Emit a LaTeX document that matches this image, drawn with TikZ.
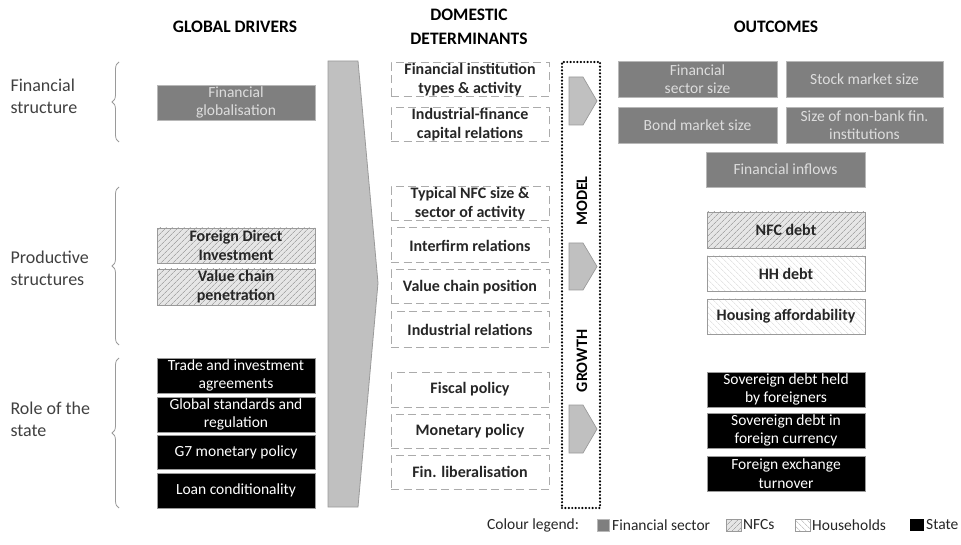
\documentclass[tikz,border=0pt]{standalone}
\usepackage{fontspec}
\setmainfont{Carlito}
\usetikzlibrary{patterns.meta,decorations.pathreplacing}
\definecolor{fingray}{HTML}{7F7F7F}
\definecolor{fintext}{HTML}{DDDDDD}
\definecolor{nfcbg}{HTML}{E6E6E6}
\definecolor{nfcline}{HTML}{A8A8A8}
\definecolor{hhline}{HTML}{D8D8D8}
\definecolor{edgegray}{HTML}{9A9A9A}
\definecolor{dashgray}{HTML}{ABABAB}
\definecolor{arrowfill}{HTML}{C0C0C0}
\definecolor{labelgray}{HTML}{404040}
\newcommand\boxfont{\fontsize{15.5}{18.5}\selectfont}
\newcommand\boldboxfont{\fontsize{16}{19}\selectfont\bfseries}
\newcommand\headfont{\fontsize{17.5}{24}\selectfont\bfseries}
\newcommand\sidefont{\fontsize{18}{22}\selectfont}
\begin{document}
\begin{tikzpicture}[x=1pt,y=-1pt,
  base/.style={minimum width=158pt, minimum height=35pt, inner sep=0pt, align=center, font=\boxfont},
  finbox/.style={base, fill=fingray, draw=edgegray!70, text=fintext},
  nfcbox/.style={base, draw=edgegray, preaction={fill=nfcbg},
     pattern={Lines[angle=45,distance=4pt,line width=0.7pt]}, pattern color=nfcline,
     font=\boldboxfont, text=black!85},
  hhbox/.style={base, draw=edgegray, preaction={fill=white},
     pattern={Lines[angle=-45,distance=4pt,line width=0.5pt]}, pattern color=hhline,
     font=\boldboxfont, text=black!85},
  statebox/.style={base, fill=black, draw=edgegray, text=white},
  detbox/.style={base, draw=dashgray, line width=1pt, dash pattern=on 8pt off 4.5pt,
     font=\boldboxfont, text=black!85},
  head/.style={align=center, font=\headfont},
  side/.style={anchor=west, align=left, font=\sidefont, text=labelgray},
  bracestyle/.style={draw=edgegray, line width=0.8pt, decorate,
     decoration={brace, amplitude=7pt}},
  bigarrow/.style={fill=arrowfill, draw=edgegray, line width=0.8pt},
  smallarrow/.style={fill=arrowfill, draw=edgegray, line width=0.7pt},
  modelbox/.style={draw=black, line width=2.4pt, dash pattern=on 0pt off 3.4pt, line cap=round,
     minimum width=38pt, minimum height=446pt, inner sep=0pt},
  vert/.style={rotate=90, font=\fontsize{16}{18}\selectfont\bfseries},
  legtext/.style={anchor=west, inner sep=0pt, font=\fontsize{15.5}{18}\selectfont, text=black!85},
  legsq/.style={minimum width=12pt, minimum height=12pt, inner sep=0pt, anchor=west}
]
\useasboundingbox (0,0) rectangle (961,545);

% headers
\node[head] (hglob) at (235,27) {GLOBAL DRIVERS};
\node[head] (hdom) at (469,27) {DOMESTIC\\DETERMINANTS};
\node[head] (hout) at (776,27) {OUTCOMES};

% side labels
\node[side] (lfin) at (7,96) {Financial\\structure};
\node[side] (lprod) at (7,268) {Productive\\structures};
\node[side] (lrole) at (7,419) {Role of the\\state};

% braces
\coordinate (b1a) at (119,142); \coordinate (b1b) at (119,62);
\coordinate (b2a) at (119,345); \coordinate (b2b) at (119,187);
\coordinate (b3a) at (119,508); \coordinate (b3b) at (119,358);
\draw[bracestyle] (b1a) -- (b1b);
\draw[bracestyle] (b2a) -- (b2b);
\draw[bracestyle] (b3a) -- (b3b);

% global drivers
\node[finbox] (gfin) at (236,102.5) {Financial\\globalisation};
\node[nfcbox] (gfdi) at (236,245.5) {Foreign Direct\\Investment};
\node[nfcbox, minimum height=36pt] (gvcp) at (236,287) {Value chain\\penetration};
\node[statebox] (gtia) at (236,375.5) {Trade and investment\\agreements};
\node[statebox] (ggsr) at (236,414.5) {Global standards and\\regulation};
\node[statebox, minimum height=34pt] (gg7) at (236,452) {G7 monetary policy};
\node[statebox] (gloan) at (236,490.5) {Loan conditionality};

% big arrow
\draw[bigarrow] (328,61) -- (358,61) -- (378,283) -- (358,507) -- (328,507) -- cycle;

% domestic determinants
\node[detbox, minimum height=34pt] (d1) at (470,80) {Financial institution\\types \& activity};
\node[detbox, minimum height=34pt] (d2) at (470,124.5) {Industrial-finance\\capital relations};
\node[detbox, minimum height=34pt] (d3) at (470,204) {Typical NFC size \&\\sector of activity};
\node[detbox] (d4) at (470,245.5) {Interfirm relations};
\node[detbox, minimum height=34pt] (d5) at (470,287) {Value chain position};
\node[detbox] (d6) at (470,329.5) {Industrial relations};
\node[detbox] (d7) at (470,389.5) {Fiscal policy};
\node[detbox, minimum height=34pt] (d8) at (470,431) {Monetary policy};
\node[detbox, minimum height=34pt] (d9) at (470,472) {Fin. liberalisation};

% growth model box
\node[modelbox] (gm) at (581,285) {};
\draw[smallarrow] (569,77) -- (583,77) -- (597,101) -- (583,125) -- (569,125) -- cycle;
\draw[smallarrow] (569,243) -- (583,243) -- (597,266.5) -- (583,290) -- (569,290) -- cycle;
\draw[smallarrow] (569,405) -- (583,405) -- (597,429) -- (583,453) -- (569,453) -- cycle;
\node[vert] (tmodel) at (582,201) {MODEL};
\node[vert] (tgrowth) at (582,361) {GROWTH};

% outcomes
\node[finbox, minimum width=159pt, minimum height=36pt] (o1) at (697.5,79) {Financial\\sector size};
\node[finbox, minimum width=157pt, minimum height=36pt] (o2) at (864.5,79) {Stock market size};
\node[finbox, minimum width=159pt, minimum height=36pt] (o3) at (697.5,125) {Bond market size};
\node[finbox, minimum width=157pt, minimum height=36pt] (o4) at (864.5,125) {Size of non-bank fin.\\institutions};
\node[finbox, minimum width=159pt] (o5) at (785.5,169.5) {Financial inflows};
\node[nfcbox, minimum height=36pt] (o6) at (786,230) {NFC debt};
\node[hhbox] (o7) at (786,273.5) {HH debt};
\node[hhbox] (o8) at (786,316.5) {Housing affordability};
\node[statebox] (o9) at (786,389.5) {Sovereign debt held\\by foreigners};
\node[statebox] (o10) at (786,430.5) {Sovereign debt in\\foreign currency};
\node[statebox] (o11) at (786,473.5) {Foreign exchange\\turnover};

% legend
\node[legtext] (lg0) at (487,525) {Colour legend:};
\node[legsq, fill=fingray, draw=edgegray!70] (lg1s) at (597,525) {};
\node[legtext] (lg1) at (612,525) {Financial sector};
\node[legsq, draw=edgegray, preaction={fill=nfcbg}, pattern={Lines[angle=45,distance=4pt,line width=0.7pt]}, pattern color=nfcline, minimum width=15pt] (lg2s) at (726,525) {};
\node[legtext] (lg2) at (743,525) {NFCs};
\node[legsq, draw=edgegray, preaction={fill=white}, pattern={Lines[angle=-45,distance=4pt,line width=0.5pt]}, pattern color=hhline!80!black, minimum width=15pt] (lg3s) at (795,525) {};
\node[legtext] (lg3) at (812,525) {Households};
\node[legsq, fill=black, minimum width=14pt] (lg4s) at (910,525) {};
\node[legtext] (lg4) at (926,525) {State};
\end{tikzpicture}
\end{document}
